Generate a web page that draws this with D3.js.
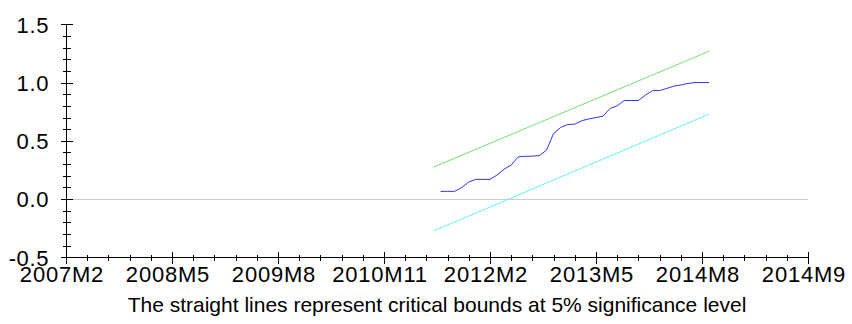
<!DOCTYPE html>
<html><head><meta charset="utf-8">
<script src="https://cdn.jsdelivr.net/npm/d3@7"></script>
<style>
html,body{margin:0;padding:0;background:#fff;}
svg{display:block;}
text{font-family:"Liberation Sans",Arial,Helvetica,sans-serif;fill:#000;}
</style></head>
<body>
<svg id="chart" width="852" height="324"></svg>
<script>
// ---- data ----
const xTickLabels = ["2007M2","2008M5","2009M8","2010M11","2012M2","2013M5","2014M8","2014M9"];
const xTickObs = [0,15,30,45,60,75,90,105];   // observation index (months from 2007M2)
const yTickValues = [-0.5,0.0,0.5,1.0,1.5];
const yTickLabels = ["-0.5","0.0","0.5","1.0","1.5"];
const cusumStartObs = 53;
const cusumSq = [0.066,0.066,0.066,0.099,0.146,0.169,0.169,0.169,0.206,0.257,0.292,0.363,0.367,0.368,0.373,0.420,0.563,0.615,0.640,0.643,0.673,0.688,0.699,0.712,0.778,0.800,0.846,0.846,0.846,0.892,0.931,0.931,0.949,0.969,0.979,0.992,1.000,1.000,1.000];
const boundObs = [52,91];
const upperBound = [0.274,1.269];
const lowerBound = [-0.274,0.729];
const caption = "The straight lines represent critical bounds at 5% significance level";

// ---- drawing ----
const svg = d3.select("#chart");
const x = d3.scaleLinear().domain([0,105]).range([66,808]);
const y = d3.scaleLinear().domain([-0.5,1.5]).range([257.3,24.3]);

// zero line
svg.append("line").attr("x1",x(0)).attr("x2",x(105)).attr("y1",Math.round(y(0))+0.5).attr("y2",Math.round(y(0))+0.5)
  .attr("stroke","#cccccc").attr("stroke-width",1);

const line = d3.line().x(d=>x(d[0])).y(d=>y(d[1]));
svg.append("path").datum(boundObs.map((o,i)=>[o,upperBound[i]])).attr("d",line)
  .attr("fill","none").attr("stroke","#70e070").attr("stroke-width",1);
svg.append("path").datum(boundObs.map((o,i)=>[o,lowerBound[i]])).attr("d",line)
  .attr("fill","none").attr("stroke","#60f4f4").attr("stroke-width",1);
svg.append("path").datum(cusumSq.map((v,i)=>[cusumStartObs+i,v])).attr("d",line)
  .attr("fill","none").attr("stroke","#1a1aff").attr("stroke-width",0.9);

// y axis
const ax = svg.append("g").attr("shape-rendering","crispEdges").attr("stroke","#000").attr("stroke-width",1);
ax.append("line").attr("x1",66.5).attr("x2",66.5).attr("y1",y(1.5)).attr("y2",y(-0.5));
const yMinor = d3.range(-5,16).map(k=>k/10);
yMinor.forEach(v=>{
  const major = Math.abs(v*2-Math.round(v*2))<1e-9;
  const w = major?6:4;
  ax.append("line").attr("x1",66.5-w).attr("x2",66.5+w).attr("y1",Math.round(y(v))+0.5).attr("y2",Math.round(y(v))+0.5);
});
// x axis
ax.append("line").attr("x1",x(0)).attr("x2",x(105)).attr("y1",257.5).attr("y2",257.5);
d3.range(0,106,3).forEach(o=>{
  const major = xTickObs.includes(o) || o===105;
  const h = major?6:3;
  ax.append("line").attr("x1",Math.round(x(o))+0.5).attr("x2",Math.round(x(o))+0.5).attr("y1",257.5-h).attr("y2",257.5+h);
});

// labels
svg.selectAll("text.yl").data(yTickValues).enter().append("text").attr("class","yl")
  .attr("x",49).attr("y",d=>y(d)+8.3).attr("text-anchor","end")
  .style("font-size","22px").style("letter-spacing","0.6px")
  .text((d,i)=>yTickLabels[i]);
svg.selectAll("text.xl").data(xTickObs).enter().append("text").attr("class","xl")
  .attr("x",d=>x(d)-4).attr("y",281.5).attr("text-anchor","middle")
  .style("font-size","22px").style("letter-spacing","0.8px")
  .text((d,i)=>xTickLabels[i]);
svg.append("text").attr("x",437).attr("y",312).attr("text-anchor","middle")
  .style("font-size","21px").text(caption);
</script>
</body></html>
